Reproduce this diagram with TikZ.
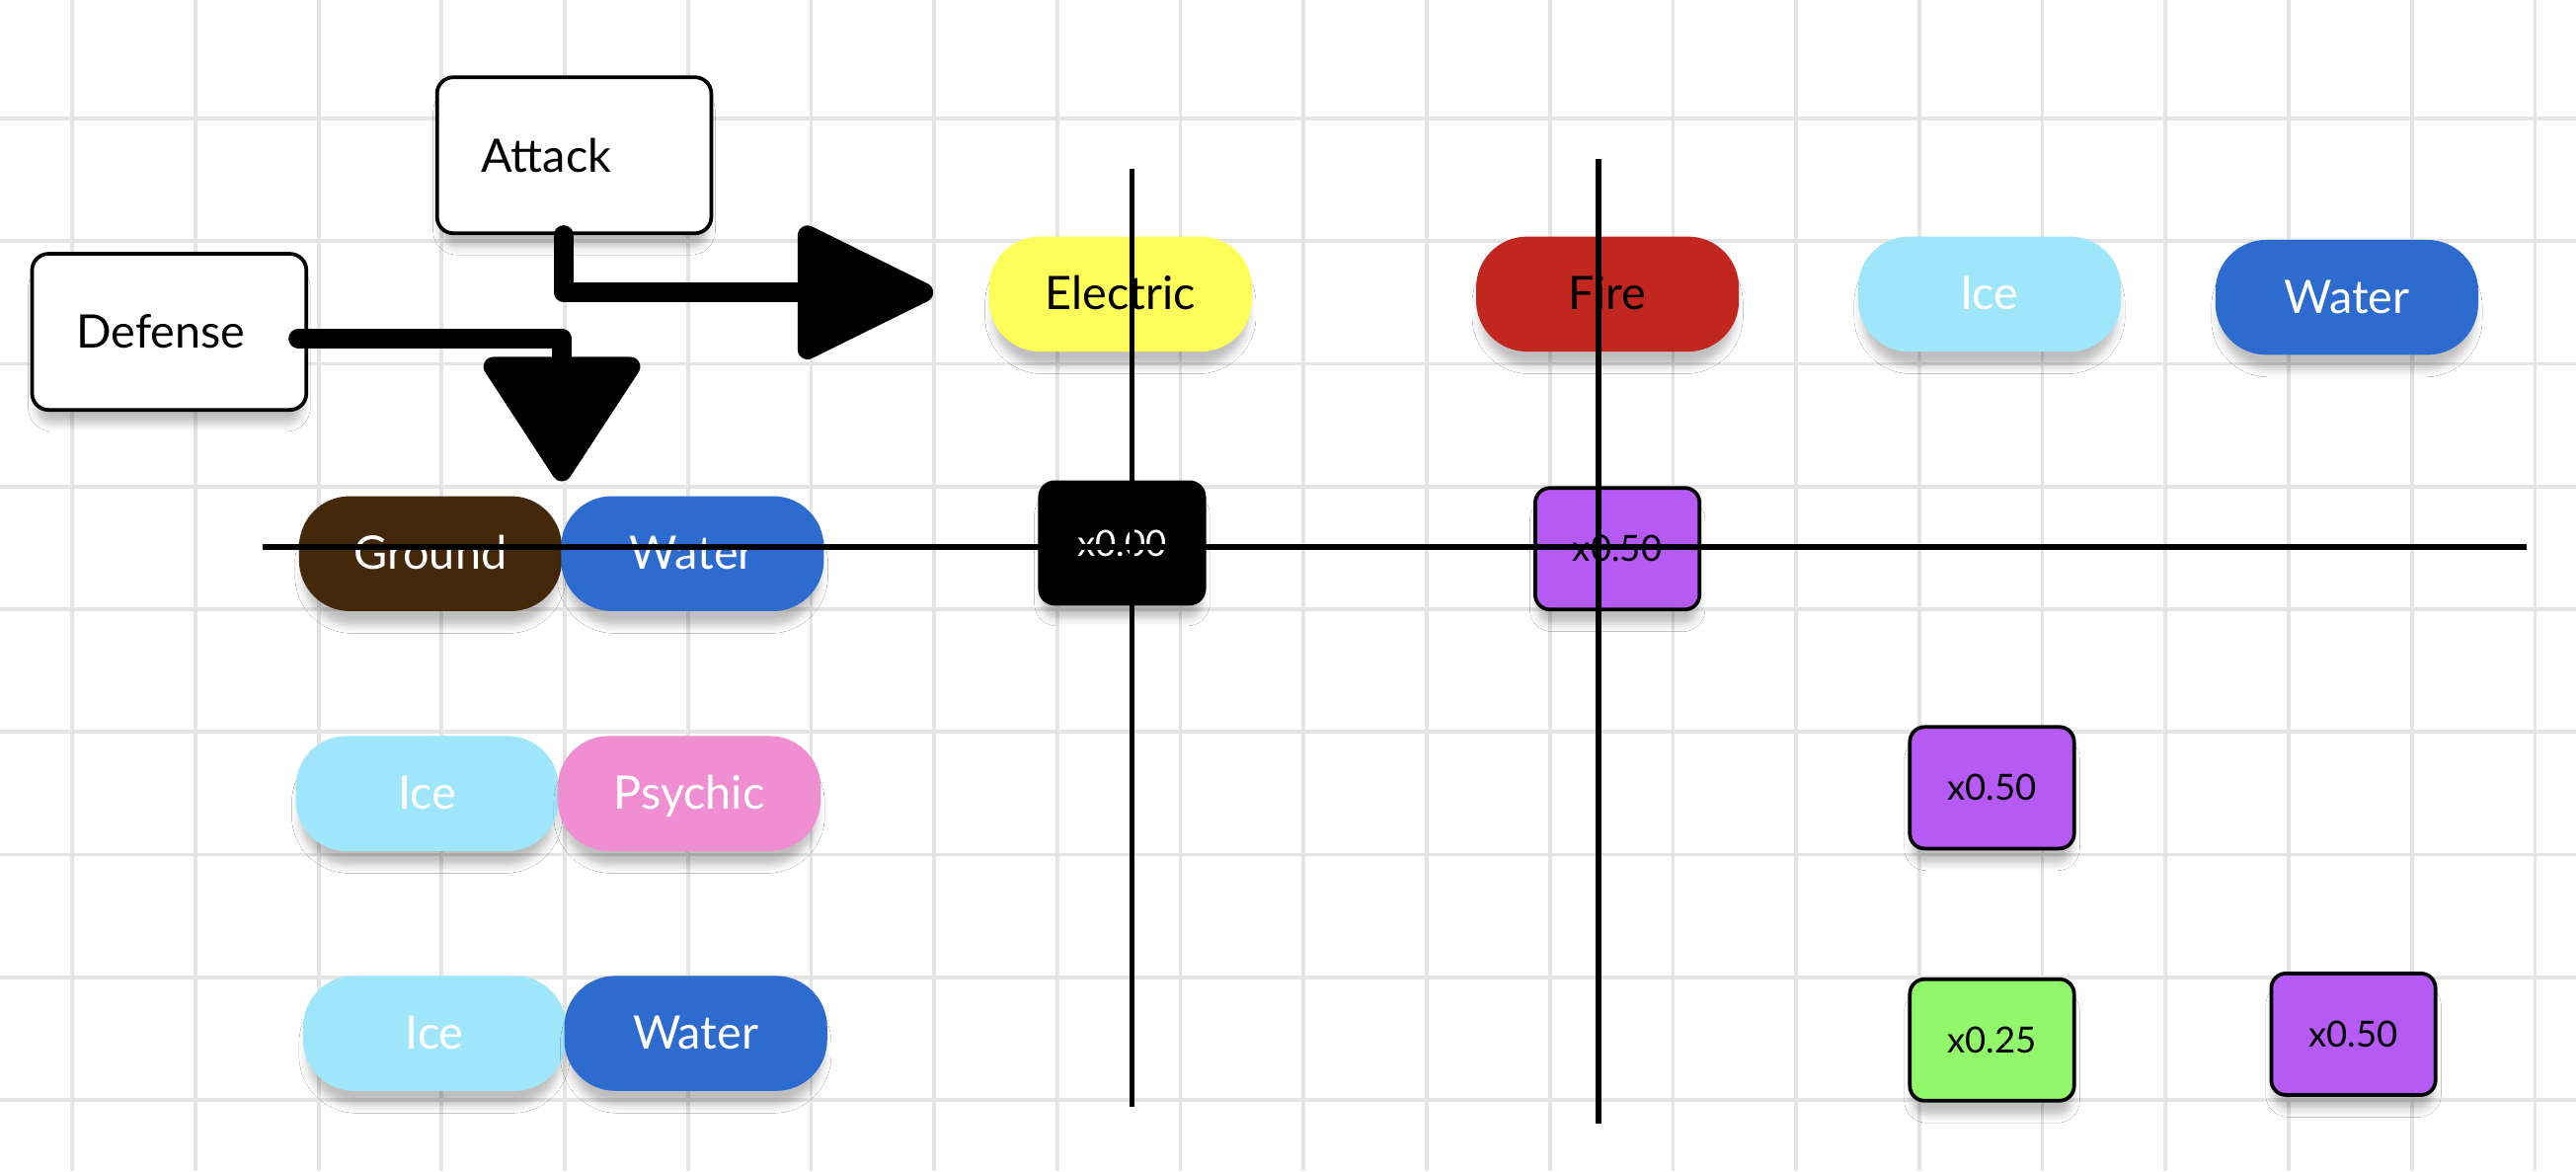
\documentclass[tikz,border=0pt]{standalone}
\usepackage{fontspec}
\setmainfont{Lato}
\usetikzlibrary{arrows.meta,shadows.blur}

\definecolor{gridgray}{HTML}{E4E4E4}
\definecolor{elecyellow}{HTML}{FEFE5A}
\definecolor{firered}{HTML}{C1271E}
\definecolor{iceblue}{HTML}{A0E6FB}
\definecolor{waterblue}{HTML}{2D6BCE}
\definecolor{groundbrown}{HTML}{43280A}
\definecolor{psychicpink}{HTML}{EF8FD2}
\definecolor{halfpurple}{HTML}{B55AF5}
\definecolor{quartergreen}{HTML}{91F86B}

\tikzset{
  softshadow/.style={blur shadow={shadow xshift=0pt, shadow yshift=-0.2cm, shadow scale=0.97, shadow blur radius=0.1cm, shadow opacity=25}},
  gridline/.style={draw=gridgray, line width=0.045cm},
  namebox/.style={draw, line width=0.045cm, fill=white, rounded corners=0.2cm, minimum height=1.9cm, text width=2.26cm, inner xsep=0.54cm, align=left, font=\fontsize{16}{19}\selectfont, softshadow},
  pill/.style={rounded corners=0.62cm, minimum width=3.2cm, minimum height=1.4cm, inner sep=0pt, text height=11pt, text depth=0pt, text=white, font=\fontsize{16}{19}\selectfont, softshadow},
  multbox/.style={draw, line width=0.045cm, rounded corners=0.18cm, minimum width=2cm, minimum height=1.48cm, inner sep=0pt, font=\fontsize{12.5}{15}\selectfont, softshadow},
  bigline/.style={line width=0.24cm, line join=round, line cap=round},
  crossline/.style={line width=0.065cm},
}

\begin{document}
\begin{tikzpicture}[x=0.02cm, y=-0.02cm]
    \useasboundingbox (0,0) rectangle (1568,713);
    \fill[white] (0,0) rectangle (1568,713);
    \foreach \gx in {0,...,20} \draw[gridline] (44+74.95*\gx,0) -- (44+74.95*\gx,713);
    \foreach \gy in {0,...,8} \draw[gridline] (0,72+74.7*\gy) -- (1568,72+74.7*\gy);

    \node[namebox] (Atk) at (349.5,94.5) {Attack};
    \node[namebox] (Def) at (103,202) {Defense};

    \node[pill, fill=elecyellow, text=black] (Elec) at (682,179) {Electric};
    \node[pill, fill=firered, text=black] (Fire) at (978.5,179) {Fire};
    \node[pill, fill=iceblue] (IceA) at (1211,179) {Ice};
    \node[pill, fill=waterblue] (WatA) at (1428.5,181) {Water};

    \node[pill, fill=groundbrown] (Gr) at (262,337) {Ground};
    \node[pill, fill=waterblue] (WatB) at (421.5,337) {Water};
    \node[pill, fill=iceblue] (IceB) at (260,483) {Ice};
    \node[pill, fill=psychicpink] (Psy) at (419.5,483) {Psychic};
    \node[pill, fill=iceblue] (IceC) at (264.5,629) {Ice};
    \node[pill, fill=waterblue] (WatC) at (423.5,629) {Water};

    \node[multbox, fill=black, text=white] (M1) at (683,330.5) {x0.00};
    \node[multbox, fill=halfpurple] (M2) at (984.5,334) {x0.50};
    \node[multbox, fill=halfpurple] (M3) at (1212.5,479.5) {x0.50};
    \node[multbox, fill=quartergreen] (M4) at (1212.5,633) {x0.25};
    \node[multbox, fill=halfpurple] (M5) at (1432.5,629.5) {x0.50};

    \coordinate (ElTip) at (568,178);
    \coordinate (GrTip) at (342,293);
    \draw[bigline, -{Triangle[length=1.81cm, width=1.71cm, round]}] ([xshift=-0.13cm]Atk.south) |- (ElTip);
    \draw[bigline, -{Triangle[length=1.62cm, width=2.05cm, round]}] ([xshift=-0.12cm, yshift=-0.08cm]Def.east) -| (GrTip);

    \coordinate (HL) at (160,333);
    \coordinate (HR) at (1538,333);
    \coordinate (V1t) at (689,103);
    \coordinate (V1b) at (689,674);
    \coordinate (V2t) at (973,97);
    \coordinate (V2b) at (973,684);
    \draw[crossline] (HL) -- (HR);
    \draw[crossline] (V1t) -- (V1b);
    \draw[crossline] (V2t) -- (V2b);
\end{tikzpicture}
\end{document}
